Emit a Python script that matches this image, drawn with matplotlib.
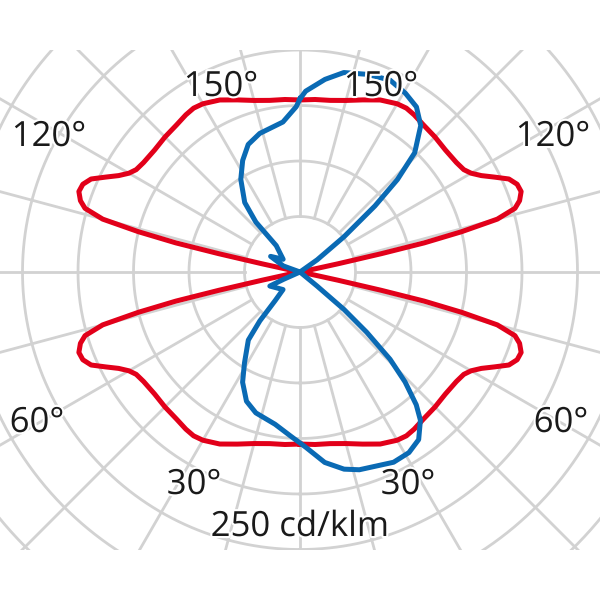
import matplotlib.pyplot as plt
import matplotlib.patheffects as pe
from matplotlib.patches import Rectangle
import numpy as np

# red curve (C0/C180), one quadrant: gamma (deg from nadir) -> cd/klm
red_gamma = [0, 5, 10, 15, 20, 25, 30, 33, 36, 40, 45, 50, 55, 58, 60, 62, 64, 66, 68,
             70, 72, 73.5, 75, 76, 76.8, 77.3, 77.8, 78.5, 82, 86, 90]
red_val = [155, 156, 157, 160, 165, 171, 175, 176, 175, 173, 172, 171, 172, 174, 178,
           185, 195, 206, 211, 212, 208, 202, 184, 150, 115, 75, 35, 8, 3, 2, 2]

# blue curve (C90/C270), full turn: signed angle (deg, + = right side) -> cd/klm
blue_ang = [-180, -178.7, -173.5, -163.8, -157.9, -152.8, -147.4, -141.5, -138.5, -138,
            -127, -118, -110, -90, -66, -65, -44, -41, -39.4, -37.2, -31.4, -27.5, -22.5,
            -17.4, -9.3, -3.3, 1.9, 7.4, 12.6, 16.7, 26.2, 31.1, 35.3, 39.1, 41.2, 43.7,
            45.9, 47.9, 49.6, 50.5, 55, 90, 124, 125.4, 128.7, 131.4, 133.5, 136.1, 140.5,
            144.8, 149.5, 154.9, 161.3, 167.6, 172.6, 178.2, 180]
blue_val = [156, 149, 136, 130, 124, 113, 99, 80, 60, 32,
            19, 30, 16, 0, 16, 30, 22, 34, 57, 77, 96, 112, 126,
            133, 139, 148, 158, 173, 182, 186, 191, 190, 185, 172, 159, 137,
            113, 81, 52, 20, 0, 0, 0, 19, 51, 90, 121, 149, 171,
            182, 187, 191, 188, 184, 175, 163, 156]

ring_values = [50, 100, 150, 200, 250, 300, 350, 400]
labels = [("150°", 221, 87), ("150°", 381, 87), ("120°", 49, 137), ("120°", 553, 137),
          ("60°", 37, 423), ("60°", 561, 423), ("30°", 194, 485), ("30°", 408, 485),
          ("250 cd/klm", 300, 527)]

grid_col = "#d2d2d2"
red = "#e2001a"
blue = "#0a6ab4"

fig = plt.figure(figsize=(6, 6), dpi=100)
rmax = 400
R = rmax * 1.11  # px
cx, cy = 300, 272
ax = fig.add_axes([(cx - R) / 600, (600 - cy - R) / 600, 2 * R / 600, 2 * R / 600],
                  projection="polar")
ax.set_theta_zero_location("S")
ax.set_theta_direction(1)
ax.set_rlim(0, rmax)
ax.set_xticks([])
ax.set_yticks([])
ax.grid(False)
ax.spines["polar"].set_visible(False)

# grid
t = np.linspace(0, 2 * np.pi, 721)
for rv in ring_values:
    ax.plot(t, np.full_like(t, rv), color=grid_col, lw=2.0, zorder=1)
for a in range(0, 360, 15):
    ax.plot([np.deg2rad(a)] * 2, [50, rmax], color=grid_col, lw=2.0, zorder=1)

# red curve
g = np.array(red_gamma)
v = np.array(red_val)
red_ang = np.concatenate([g, 180 - g[::-1], 180 + g[1:], 360 - g[::-1]])
red_r = np.concatenate([v, v[::-1], v[1:], v[::-1]])
ax.plot(np.deg2rad(red_ang), red_r, color=red, lw=3.6, zorder=3, solid_joinstyle="round")

# blue curve
ax.plot(np.deg2rad(blue_ang), blue_val, color=blue, lw=3.6, zorder=4, solid_joinstyle="round")

# white bands above/below the grid
fig.add_artist(Rectangle((0, 0), 1, 50 / 600, transform=fig.transFigure,
                         facecolor="white", edgecolor="none", zorder=1))
fig.add_artist(Rectangle((0, 550 / 600), 1, 50 / 600, transform=fig.transFigure,
                         facecolor="white", edgecolor="none", zorder=1))

for txt, x, y in labels:
    fig.text(x / 600, 1 - y / 600, txt, ha="center", va="center", fontsize=25,
             family="Open Sans", color="#1a1a1a", zorder=5,
             path_effects=[pe.withStroke(linewidth=3, foreground="white")])

fig.savefig("out.png", dpi=100, facecolor="white")
